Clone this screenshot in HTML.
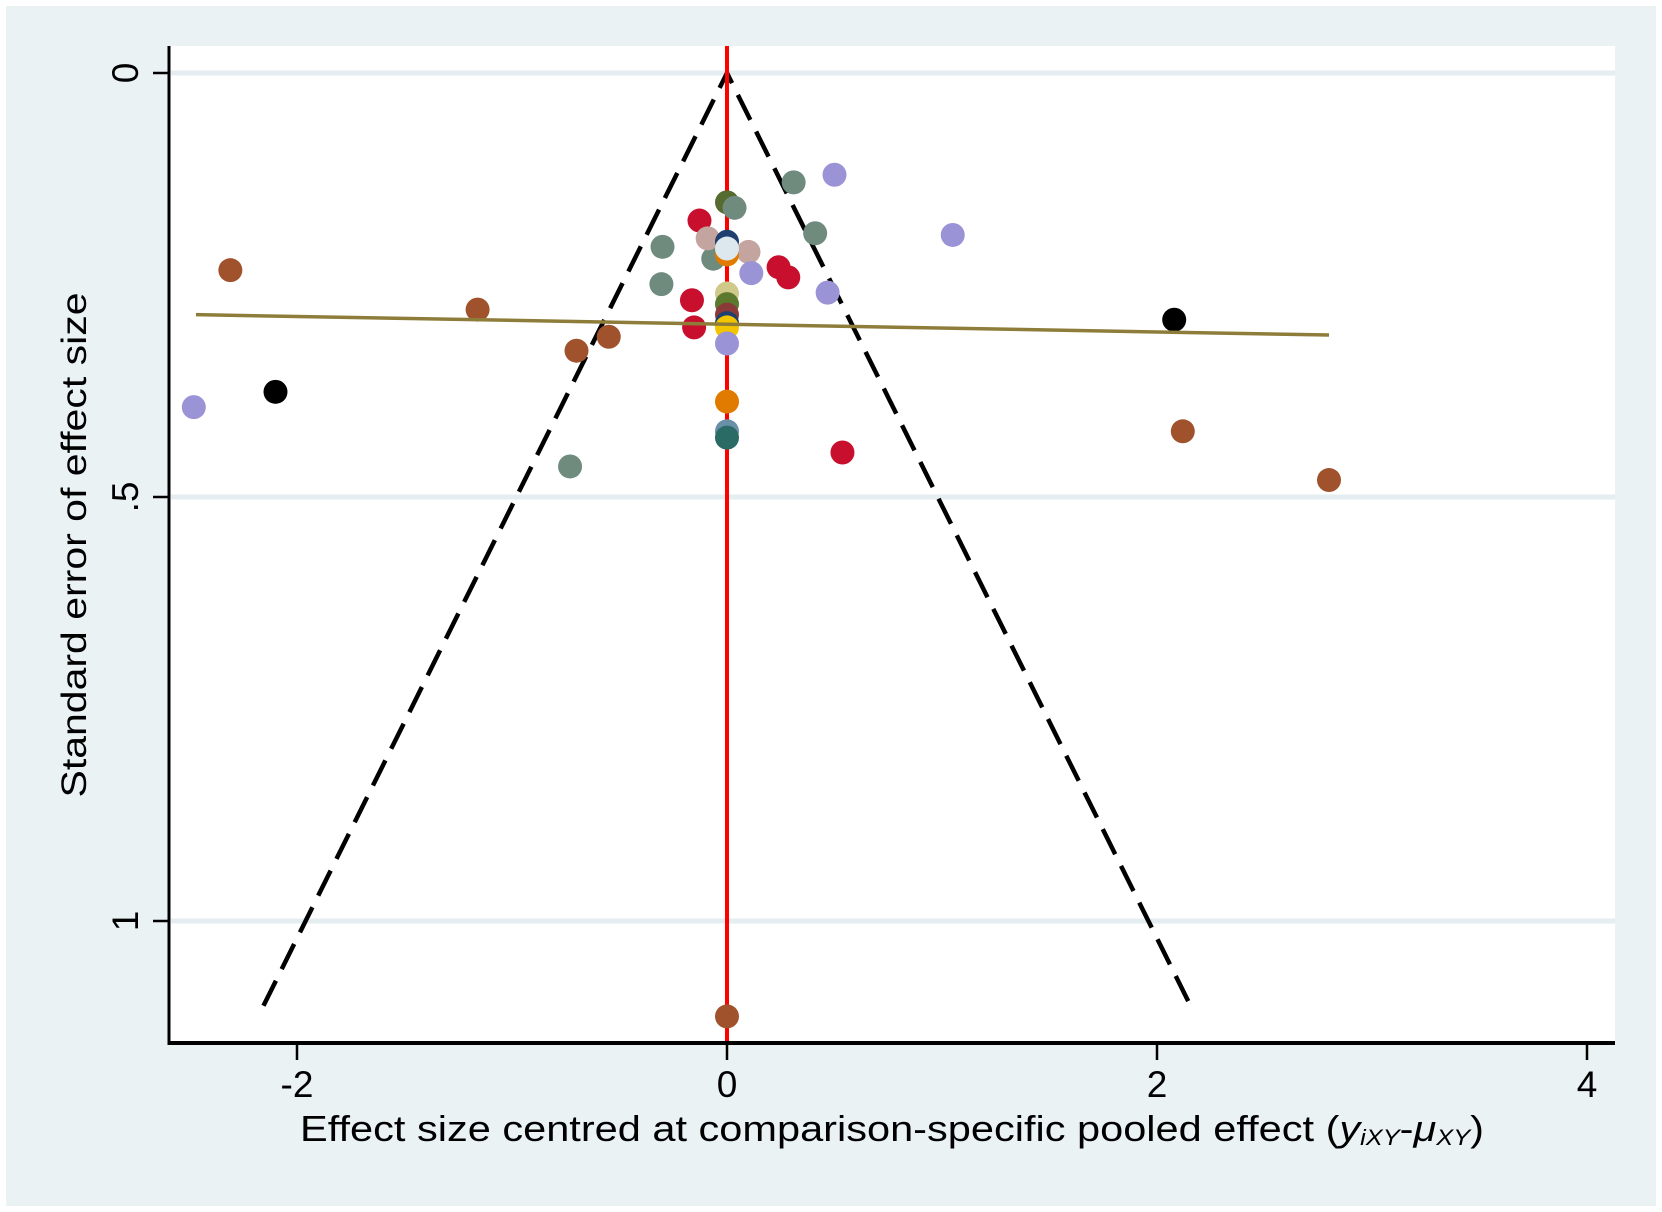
<!DOCTYPE html>
<html><head><meta charset="utf-8"><style>
html,body{margin:0;padding:0;background:#fff}
svg{display:block;font-family:"Liberation Sans",Arial,sans-serif}
</style></head><body>
<svg id="chart" width="1662" height="1212" viewBox="0 0 1662 1212">
<rect x="6" y="6" width="1650" height="1200" fill="#EAF2F3"/>
<rect x="169" y="46" width="1446" height="997" fill="#ffffff"/>
<g id="grid"></g>
<g id="funnel"></g>
<g id="points"></g>
<g id="axes"></g>
<text x="0" y="0" transform="translate(86,545) rotate(-90)" text-anchor="middle" font-size="35" textLength="505" lengthAdjust="spacingAndGlyphs">Standard error of effect size</text>
<text x="892" y="1141" text-anchor="middle" font-size="36" textLength="1184" lengthAdjust="spacingAndGlyphs">Effect size centred at comparison-specific pooled effect (<tspan font-style="italic">y</tspan><tspan font-style="italic" font-size="22" dy="4">iXY</tspan><tspan dy="-4">-</tspan><tspan font-style="italic">μ</tspan><tspan font-style="italic" font-size="22" dy="4">XY</tspan><tspan dy="-4">)</tspan></text>
</svg>
<script>
const xTicks=[-2,0,2,4];
const yTicks=[0,0.5,1];
const yTickLabels=["0",".5","1"];
const ptX=[-2.31,-1.16,-0.70,-0.55,-2.48,-2.10,-0.73,-0.30,-0.305,-0.064,-0.128,-0.09,0.10,-0.163,-0.153,0,0.035,0.31,0.50,0.41,1.05,0.24,0.285,0.113,0.468,0,0,0,0,0,0,0,0,0,0,0,0,0.537,2.08,2.12,2.80,0];
const ptSE=[0.2325,0.279,0.3275,0.311,0.394,0.376,0.464,0.205,0.249,0.219,0.174,0.195,0.211,0.268,0.30,0.1525,0.159,0.129,0.12,0.189,0.191,0.229,0.241,0.236,0.259,0.199,0.214,0.207,0.26,0.2725,0.285,0.295,0.30,0.319,0.3875,0.4225,0.43,0.4475,0.291,0.4225,0.48,1.1125];
const ptColor=["#A0522D","#A0522D","#A0522D","#A0522D","#9A93D6","#000000","#6E8B7E","#6E8B7E","#6E8B7E","#6E8B7E","#C8102E","#C4A49E","#C4A49E","#C8102E","#C8102E","#556B2F","#6E8B7E","#6E8B7E","#9A93D6","#6E8B7E","#9A93D6","#C8102E","#C8102E","#9A93D6","#9A93D6","#1F3F6E","#E07B00","#DDE8EE","#CFC98A","#5C7A2E","#8B3A3A","#1F3F6E","#F2C500","#9A93D6","#E07B00","#6A8FA8","#2A6B66","#C8102E","#000000","#A0522D","#A0522D","#A0522D"];
const regX=[-2.47,2.80];
const regSE=[0.285,0.309];
const funnelMaxSE=[1.10];

const X0=727,XU=215,Y0=73,YU=848;
const sx=v=>X0+v*XU, sy=v=>Y0+v*YU;
const NS="http://www.w3.org/2000/svg";
function mk(tag,attrs,parent){const e=document.createElementNS(NS,tag);for(const k in attrs)e.setAttribute(k,attrs[k]);parent.appendChild(e);return e;}
const grid=document.getElementById('grid'),funnel=document.getElementById('funnel'),pts=document.getElementById('points'),axes=document.getElementById('axes');

yTicks.forEach((t,i)=>{
  const g=mk('line',{x1:171,x2:1615,y1:sy(t),y2:sy(t),stroke:'#E4EEF0','stroke-width':5},grid);
  
  
  const tk=mk('line',{x1:153,x2:169,y1:sy(t),y2:sy(t),stroke:'#000','stroke-width':2.5},axes);
  
  
  const lb=mk('text',{transform:`translate(138,${sy(t)}) rotate(-90)`,'text-anchor':'middle','font-size':37},axes);
  lb.textContent=yTickLabels[i];
  
  
});
xTicks.forEach(t=>{
  const tk=mk('line',{x1:sx(t),x2:sx(t),y1:1043,y2:1060,stroke:'#000','stroke-width':2.5},axes);
  
  
  const lb=mk('text',{x:sx(t),y:1097,'text-anchor':'middle','font-size':37},axes);
  lb.textContent=t<0?('-'+Math.abs(t)):String(t);
  
  
});
const ax1=mk('line',{x1:169,x2:169,y1:46,y2:1045,stroke:'#000','stroke-width':3},axes);


const ax2=mk('line',{x1:168,x2:1615,y1:1043,y2:1043,stroke:'#000','stroke-width':4},axes);



const m=funnelMaxSE[0];
const fl=mk('polyline',{points:`${sx(-1.96*m)},${sy(m)} ${sx(0)},${sy(0)} ${sx(1.96*m)},${sy(m)}`,fill:'none',stroke:'#000','stroke-width':4.5,'stroke-dasharray':'28,13'},funnel);


const rl=mk('line',{x1:sx(0),x2:sx(0),y1:46,y2:1043,stroke:'#FF0000','stroke-width':4},funnel);



ptX.forEach((v,i)=>{
  const c=mk('circle',{cx:sx(v),cy:sy(ptSE[i]),r:12,fill:ptColor[i]},pts);
  
  
});
const reg=mk('line',{x1:sx(regX[0]),y1:sy(regSE[0]),x2:sx(regX[1]),y2:sy(regSE[1]),stroke:'#8E7D3A','stroke-width':3.5},pts);


</script>
</body></html>
